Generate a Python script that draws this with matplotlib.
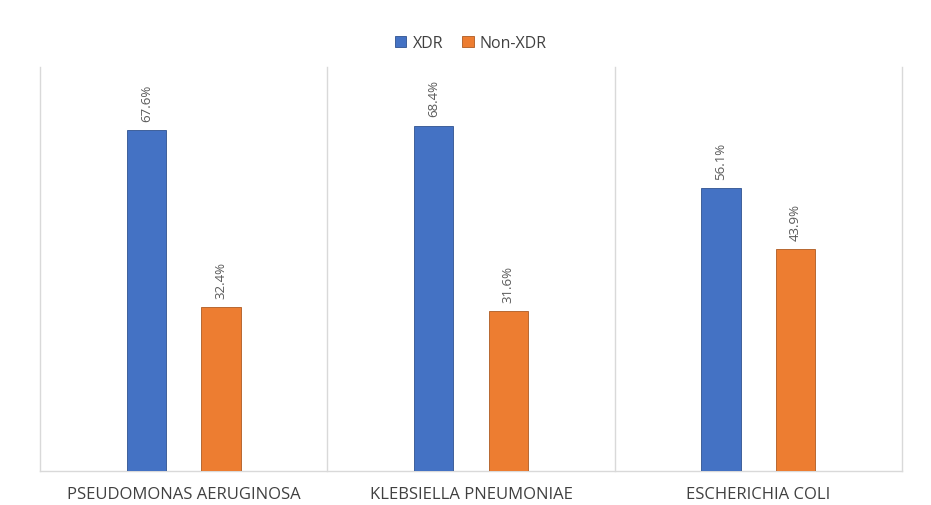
import matplotlib
matplotlib.use("Agg")
import matplotlib.pyplot as plt
import numpy as np

categories = ["PSEUDOMONAS AERUGINOSA", "KLEBSIELLA PNEUMONIAE", "ESCHERICHIA COLI"]
xdr = [67.6, 68.4, 56.1]
non_xdr = [32.4, 31.6, 43.9]

blue = "#4472C4"
orange = "#ED7D31"
grid_c = "#D9D9D9"
text_c = "#595959"

plt.rcParams['font.family'] = ['Open Sans', 'DejaVu Sans']

fig = plt.figure(figsize=(9.31, 5.06), dpi=100)
ax = fig.add_axes([40/931, 34/506, 862/931, 404/506])

x = np.arange(len(categories))
w = 0.136
off = 0.13
b1 = ax.bar(x - off, xdr, w, color=blue, edgecolor="#2F528F", linewidth=0.6, label="XDR", zorder=3)
b2 = ax.bar(x + off, non_xdr, w, color=orange, edgecolor="#AE5A21", linewidth=0.6, label="Non-XDR", zorder=3)

for bars, vals in ((b1, xdr), (b2, non_xdr)):
    for rect, v in zip(bars, vals):
        ax.text(rect.get_x() + rect.get_width() / 2, v + 1.8, f"{v:.1f}%",
                rotation=90, ha="center", va="bottom", fontsize=9.5, color=text_c)

ax.set_xlim(-0.5, len(categories) - 0.5)
ax.set_ylim(0, 80)
ax.set_yticks([])
ax.set_xticks(x)
ax.set_xticklabels(categories, fontsize=12, color="#404040")
ax.tick_params(axis="x", length=0, pad=11)

for b in np.arange(-0.5, len(categories), 1.0):
    ax.axvline(b, color=grid_c, linewidth=1, zorder=1, clip_on=False)

for s in ("top", "left", "right"):
    ax.spines[s].set_visible(False)
ax.spines["bottom"].set_color(grid_c)
ax.spines["bottom"].set_linewidth(1)

ax.legend(loc="center", bbox_to_anchor=(0.5, (506 - 44 - 34) / 404), ncol=2, frameon=False,
          fontsize=11.5, handlelength=0.7, handleheight=0.7, handletextpad=0.4, columnspacing=1.2,
          labelcolor="#404040")

fig.savefig("out.png", dpi=100, facecolor="white")
